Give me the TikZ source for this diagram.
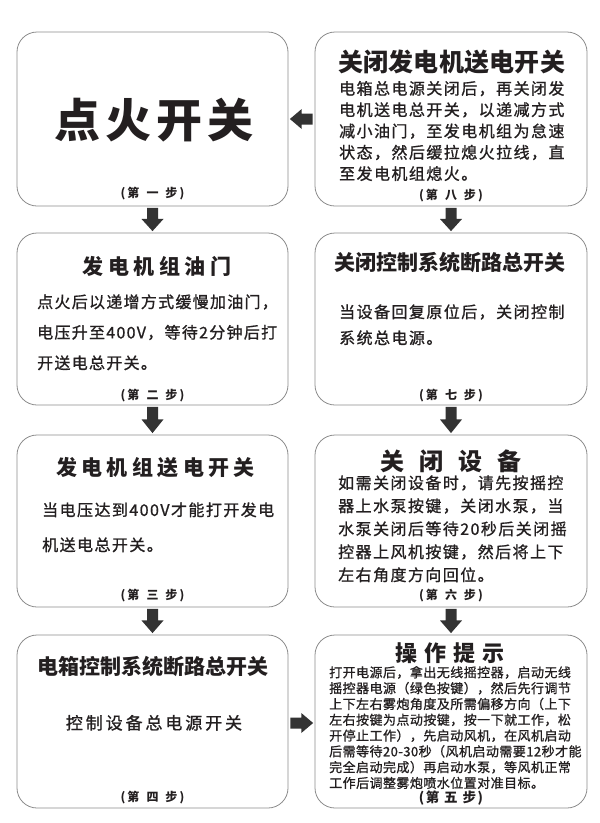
\documentclass[tikz,border=0pt]{standalone}
\usepackage{fontspec}
\setmainfont{Noto Sans CJK SC}
\newfontfamily\medf{Noto Sans CJK SC}[FakeBold=1]
\usetikzlibrary{calc}
\definecolor{txt}{RGB}{35,31,32}
\definecolor{arrowc}{RGB}{51,51,51}
\definecolor{boxc}{RGB}{140,140,140}
\newcommand\setf[2]{\fontsize{#1}{#1}\selectfont\addfontfeatures{LetterSpace=#2}}
\newcommand\mylines[6]{%
  \foreach \t [count=\i] in {#6} {\node[#2, anchor=base west] (#1\i) at (#3, {#4+(\i-1)*#5}) {\t};}}
\newcommand\darr[2]{%
  \coordinate (m) at ($(#1.south)!0.48!(#2.north)$);
  \fill[arrowc] ($(#1.south)+(-5.5,1.5)$) -- ($(#1.south)+(5.5,1.5)$) -- ($(m)+(5.5,0)$) -- ($(m)+(11,0)$)
     -- ($(#2.north)+(0,-1.5)$) -- ($(m)+(-11,0)$) -- ($(m)+(-5.5,0)$) -- cycle;}
\newcommand\harr[2]{%
  \coordinate (m) at ($(#1)!0.48!(#2)$);
  \fill[arrowc] ($(#1)+(0,-5.5)$) -- ($(m)+(0,-5.5)$) -- ($(m)+(0,-10)$) -- (#2)
     -- ($(m)+(0,10)$) -- ($(m)+(0,5.5)$) -- ($(#1)+(0,5.5)$) -- cycle;}
\tikzset{
  box/.style={draw=boxc, line width=0.8pt, rounded corners=20pt, inner sep=0pt, fill=white},
  bigtitle/.style={inner sep=0pt, text=txt, font={\bfseries\setf{46}{11}}},
  ttl/.style 2 args={inner sep=0pt, text=txt, font={\bfseries\setf{#1}{#2}}},
  body/.style 2 args={inner sep=0pt, text=txt, font={\medf\setf{#1}{#2}}},
  steplbl/.style={inner sep=0pt, text=txt, font={\bfseries\fontsize{12}{12}\selectfont}},
  steplblb/.style={inner sep=0pt, text=txt, font={\bfseries\fontsize{13.5}{13.5}\selectfont}}
}
\begin{document}
\begin{tikzpicture}[x=1pt,y=-1pt]
\useasboundingbox (0,0) rectangle (600,823);
\fill[white] (0,0) rectangle (600,823);
% boxes
\node[box, minimum width=271pt, minimum height=174pt] (b1) at (152.5,119) {};
\node[box, minimum width=272pt, minimum height=174pt] (b8) at (451,119) {};
\node[box, minimum width=271pt, minimum height=172pt] (b2) at (152.5,319) {};
\node[box, minimum width=272pt, minimum height=172pt] (b7) at (451,319) {};
\node[box, minimum width=271pt, minimum height=172pt] (b3) at (152.5,521) {};
\node[box, minimum width=272pt, minimum height=172pt] (b6) at (451,521) {};
\node[box, minimum width=271pt, minimum height=173pt] (b4) at (152.5,721.5) {};
\node[box, minimum width=272pt, minimum height=173pt] (b5) at (451,721.5) {};
% arrows
\darr{b1}{b2}
\darr{b2}{b3}
\darr{b3}{b4}
\darr{b8}{b7}
\darr{b7}{b6}
\darr{b6}{b5}
\coordinate (l1) at ($(b8.west)+(-2,0)$);
\coordinate (l2) at ($(b1.east)+(1.5,0)$);
\harr{l1}{l2}
\coordinate (r1) at ($(b4.east)+(2,1.5)$);
\coordinate (r2) at ($(b5.west)+(-1.5,1.5)$);
\harr{r1}{r2}
% box 1
\node[bigtitle, anchor=base] (t1) at (154,137) {点火开关};
\node[steplbl, anchor=base] (s1) at (152.5,197.4) {(\hspace{2pt}第\hspace{7pt}一\hspace{7pt}步\hspace{2pt})};
% box 8
\node[ttl={25}{1}, anchor=base] (t8) at (451.5,71.5) {关闭发电机送电开关};
\mylines{b8l}{body={16}{9}}{339}{94.5}{21.3}{{电箱总电源关闭后，再关闭发},{电机送电总开关，以递减方式},{减小油门，至发电机组为怠速},{状态，然后缓拉熄火拉线，直},{至发电机组熄火。}}
\node[steplbl, anchor=base] (s8) at (451,199.4) {(\hspace{2pt}第\hspace{7pt}八\hspace{7pt}步\hspace{2pt})};
% box 2
\node[ttl={21}{22}, anchor=base] (t2) at (157,274.8) {发电机组油门};
\mylines{b2l}{body={16}{8}}{37}{307.9}{30.5}{{点火后以递增方式缓慢加油门，},{电压升至400V，等待2分钟后打},{开送电总开关。}}
\node[steplbl, anchor=base] (s2) at (152.5,399.4) {(\hspace{2pt}第\hspace{7pt}二\hspace{7pt}步\hspace{2pt})};
% box 7
\node[ttl={21}{0}, anchor=base] (t7) at (450,270.8) {关闭控制系统断路总开关};
\mylines{b7l}{body={16}{9}}{339}{317.9}{26}{{当设备回复原位后，关闭控制},{系统总电源。}}
\node[steplbl, anchor=base] (s7) at (451,399.4) {(\hspace{2pt}第\hspace{7pt}七\hspace{7pt}步\hspace{2pt})};
% box 3
\node[ttl={21}{21}, anchor=base] (t3) at (155.5,475.8) {发电机组送电开关};
\mylines{b3l}{body={16}{9}}{42}{515.9}{35}{{当电压达到400V才能打开发电},{机送电总开关。}}
\node[steplbl, anchor=base] (s3) at (152.5,599.4) {(\hspace{2pt}第\hspace{7pt}三\hspace{7pt}步\hspace{2pt})};
% box 6
\node[ttl={24}{0}, anchor=base] (t6) at (451,470.9) {关\hspace{15pt}闭\hspace{15pt}设\hspace{15pt}备};
\mylines{b6l}{body={16}{9}}{338}{488.9}{23}{{如需关闭设备时，请先按摇控},{器上水泵按键，关闭水泵，当},{水泵关闭后等待20秒后关闭摇},{控器上风机按键，然后将上下},{左右角度方向回位。}}
\node[steplbl, anchor=base] (s6) at (451,599.4) {(\hspace{2pt}第\hspace{7pt}六\hspace{7pt}步\hspace{2pt})};
% box 4
\node[ttl={21}{0}, anchor=base] (t4) at (153,674.8) {电箱控制系统断路总开关};
\node[body={17}{17}, anchor=base] (b4l1) at (154,729.3) {控制设备总电源开关};
\node[steplbl, anchor=base] (s4) at (152.5,801.4) {(\hspace{2pt}第\hspace{7pt}四\hspace{7pt}步\hspace{2pt})};
% box 5
\node[ttl={22}{0}, anchor=base] (t5) at (450,661.1) {操\hspace{7pt}作\hspace{7pt}提\hspace{7pt}示};
\mylines{b5l}{body={13}{3.5}}{329}{677.3}{15.8}{{打开电源后，拿出无线摇控器，启动无线},{摇控器电源（绿色按键），然后先行调节},{上下左右雾炮角度及所需偏移方向（上下},{左右按键为点动按键，按一下就工作，松},{开停止工作），先启动风机，在风机启动},{后需等待20-30秒（风机启动需要12秒才能},{完全启动完成）再启动水泵，等风机正常},{工作后调整雾炮喷水位置对准目标。}}
\node[steplblb, anchor=base] (s5) at (451,802) {(\hspace{1.5pt}第\hspace{5pt}五\hspace{5pt}步\hspace{1.5pt})};
\end{tikzpicture}
\end{document}
